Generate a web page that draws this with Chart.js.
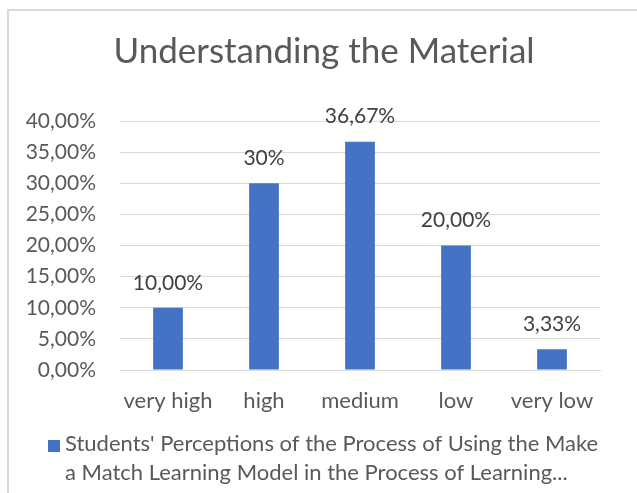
<!DOCTYPE html>
<html>
<head>
<meta charset="utf-8">
<script src="https://cdn.jsdelivr.net/npm/chart.js@4.4.0/dist/chart.umd.min.js"></script>
<style>
  html, body { margin: 0; padding: 0; background: #fff; }
  #wrap { position: relative; width: 637px; height: 493px; overflow: hidden; }
  #frame { position: absolute; left: 7px; top: 9px; width: 700px; height: 600px;
           border-top: 2px solid #d9d9d9; border-left: 2px solid #d9d9d9; }
  canvas { position: absolute; left: 0; top: 0; }
</style>
</head>
<body>
<div id="wrap">
  <div id="frame"></div>
  <canvas id="chart" width="637" height="493"></canvas>
</div>
<script>
// chart data
const categories = ['very high', 'high', 'medium', 'low', 'very low'];
const values = [10.00, 30.00, 36.67, 20.00, 3.33];
const valueLabels = ['10,00%', '30%', '36,67%', '20,00%', '3,33%'];
const yTicks = [0, 5, 10, 15, 20, 25, 30, 35, 40];
const titleText = 'Understanding the Material';
const legendLines = [
    "Students' Perceptions of the Process of Using the Make",
    "a Match Learning Model in the Process of Learning..."
];

const FONT = 'Lato, "Open Sans", sans-serif';
const BLUE = '#4472C4';

// title, centred over the whole frame rather than the plot
const chartTitle = {
    id: 'chartTitle',
    afterDraw(chart) {
        const ctx = chart.ctx;
        ctx.save();
        ctx.font = '35px ' + FONT;
        ctx.fillStyle = '#595959';
        ctx.textAlign = 'center';
        ctx.textBaseline = 'middle';
        ctx.fillText(titleText, 324, 52);
        ctx.restore();
    }
};

// labels above the bars
const barLabels = {
    id: 'barLabels',
    afterDatasetsDraw(chart) {
        const ctx = chart.ctx;
        const meta = chart.getDatasetMeta(0);
        ctx.save();
        ctx.font = '21px ' + FONT;
        ctx.fillStyle = '#404040';
        ctx.textAlign = 'center';
        ctx.textBaseline = 'middle';
        meta.data.forEach((bar, i) => {
            ctx.fillText(valueLabels[i], bar.x, bar.y - 25);
        });
        ctx.restore();
    }
};

// two-line legend at the bottom
const bottomLegend = {
    id: 'bottomLegend',
    afterDraw(chart) {
        const ctx = chart.ctx;
        ctx.save();
        ctx.fillStyle = BLUE;
        ctx.fillRect(48, 440, 12, 12);
        ctx.font = '22px ' + FONT;
        ctx.fillStyle = '#595959';
        ctx.textAlign = 'left';
        ctx.textBaseline = 'middle';
        legendLines.forEach((line, i) => {
            ctx.fillText(line, 65, 444 + i * 29);
        });
        ctx.restore();
    }
};

new Chart(document.getElementById('chart'), {
    type: 'bar',
    data: {
        labels: categories,
        datasets: [{
            label: legendLines.join(' '),
            data: values,
            backgroundColor: BLUE,
            barPercentage: 0.31,
            categoryPercentage: 1
        }]
    },
    options: {
        responsive: false,
        animation: false,
        layout: { padding: { top: 121, right: 37, bottom: 80, left: 0 } },
        plugins: {
            legend: { display: false },
            tooltip: { enabled: false },
            title: { display: false }
        },
        scales: {
            x: {
                afterFit(scale) { scale.height = 43; },
                grid: { display: false, drawTicks: false },
                border: { color: '#d9d9d9' },
                ticks: {
                    color: '#595959', padding: 18, minRotation: 0, maxRotation: 0,
                    font: { family: FONT, size: 22 }
                }
            },
            y: {
                min: 0,
                max: 40,
                afterFit(scale) { scale.width = 120; },
                afterBuildTicks(scale) { scale.ticks = yTicks.map(v => ({ value: v })); },
                grid: { color: '#d9d9d9', drawTicks: false },
                border: { display: false },
                ticks: {
                    color: '#595959',
                    padding: 24,
                    font: { family: FONT, size: 21 },
                    callback: v => v.toFixed(2).replace('.', ',') + '%'
                }
            }
        }
    },
    plugins: [chartTitle, barLabels, bottomLegend]
});
</script>
</body>
</html>
